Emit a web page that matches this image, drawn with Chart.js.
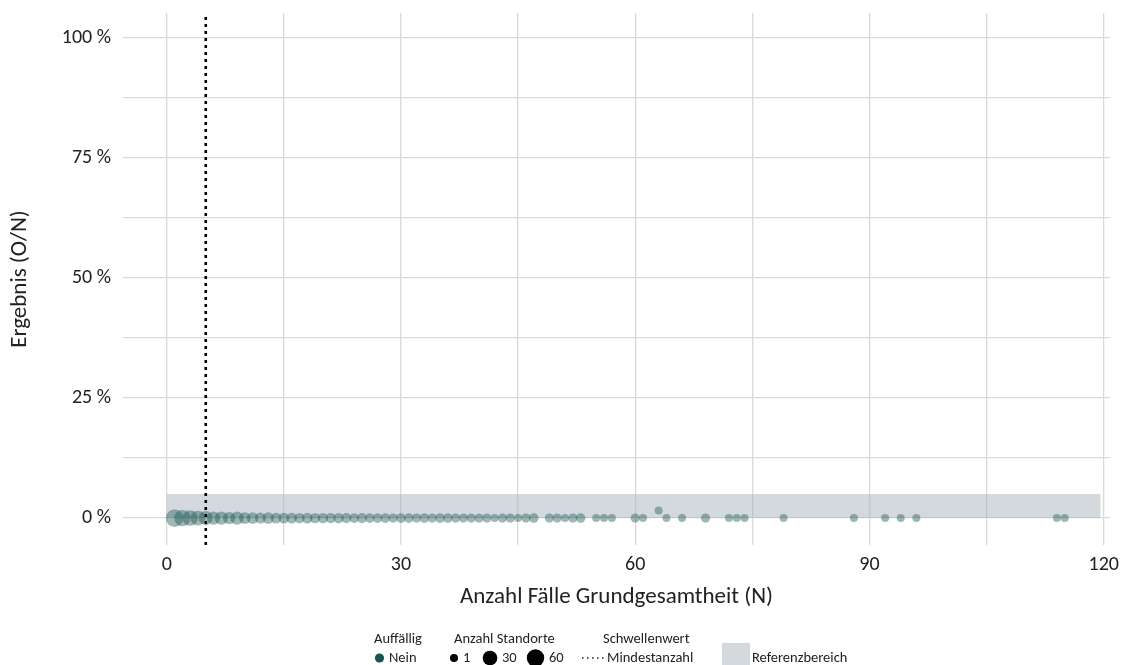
<!DOCTYPE html>
<html><head><meta charset="utf-8">
<script src="https://cdn.jsdelivr.net/npm/chart.js@4.4.1/dist/chart.umd.min.js"></script>
<style>html,body{margin:0;padding:0;background:#fff;}#wrap{width:1122px;height:665px;position:relative;}</style>
</head><body><div id="wrap"><canvas id="c" width="1122" height="665"></canvas></div>
<script>
// Data
const fallzahlen = [1,2,3,4,5,6,7,8,9,10,11,12,13,14,15,16,17,18,19,20,21,22,23,24,25,26,27,28,29,30,31,32,33,34,35,36,37,38,39,40,41,42,43,44,45,46,47,49,50,51,52,53,55,56,57,60,61,63,64,66,69,72,73,74,79,88,92,94,96,114,115];
const anzahlStandorte = [62,48,38,32,26,18,20,14,20,10,9,7,9,6,6,6,5,6,5,5,4,5,4,3,4,3,3,3,2,3,3,2,3,2,3,3,2,2,2,2,2,1,2,2,1,2,3,2,2,1,2,3,1,1,1,2,1,1,1,1,2,1,1,1,1,1,1,1,1,1,1];
const ergebnisProzent = fallzahlen.map(n => n === 63 ? 1.6 : 0);
const referenzbereich = [0, 5];       // percent
const mindestanzahl = 5;
const xTicks = [0,15,30,45,60,75,90,105,120];
const xLabels = [0,30,60,90,120];
const yTicks = [0,12.5,25,37.5,50,62.5,75,87.5,100];
const yLabels = [0,25,50,75,100];
const refBandEnd = 119.6;

const FONT = 'Carlito, Calibri, Lato, sans-serif';
const sizeMin = 1, sizeMax = 62;
function diam(v){ return 8 + 9.6*Math.sqrt(Math.max(0,(v-sizeMin)/(sizeMax-sizeMin))); }

const points = fallzahlen.map((n,i)=>({x:n, y:ergebnisProzent[i], c:anzahlStandorte[i]}));

const legendPlugin = {
  id:'legendCustom',
  afterDraw(chart){
    const ctx = chart.ctx;
    ctx.save();
    ctx.font = '14.5px ' + FONT;
    ctx.fillStyle = '#222';
    ctx.textBaseline = 'middle';
    ctx.textAlign = 'left';
    const ty = 639, iy = 658;
    ctx.fillText('Auffällig', 374, ty);
    ctx.beginPath(); ctx.arc(379.5, iy, 4.6, 0, Math.PI*2); ctx.fillStyle = '#1b5553'; ctx.fill();
    ctx.fillStyle = '#222'; ctx.fillText('Nein', 389, iy);
    ctx.fillText('Anzahl Standorte', 454, ty);
    const items = [[1,454,463],[30,490,502],[60,535.5,549]];
    items.forEach(([v,cx,tx])=>{
      ctx.beginPath(); ctx.arc(cx, iy, diam(v)/2, 0, Math.PI*2); ctx.fillStyle='#000'; ctx.fill();
      ctx.fillStyle='#222'; ctx.fillText(String(v), tx, iy);
    });
    ctx.fillText('Schwellenwert', 603, ty);
    ctx.beginPath(); ctx.setLineDash([1.5,3.5]); ctx.strokeStyle='#222'; ctx.lineWidth=1.3;
    ctx.moveTo(582, iy); ctx.lineTo(605, iy); ctx.stroke(); ctx.setLineDash([]);
    ctx.fillText('Mindestanzahl', 607, iy);
    ctx.fillStyle = 'rgb(211,216,220)'; ctx.fillRect(722, 643, 28, 22);
    ctx.fillStyle = '#222'; ctx.fillText('Referenzbereich', 752, iy);
    ctx.restore();
  }
};

new Chart(document.getElementById('c'), {
  type:'scatter',
  data:{datasets:[
    {
      type:'line', label:'Mindestanzahl',
      data:[{x:mindestanzahl,y:-5.6},{x:mindestanzahl,y:105.2}],
      borderColor:'#000', borderWidth:2.6, borderDash:[3,4], pointRadius:0, fill:false, order:0
    },
    {
      label:'Standorte', data:points,
      backgroundColor:'rgba(27,85,83,0.42)', borderWidth:0,
      pointRadius: c => c.raw ? diam(c.raw.c)/2 : 3,
      pointHoverRadius: c => c.raw ? diam(c.raw.c)/2 : 3,
      order:1
    },
    {
      type:'line', label:'Referenzbereich',
      data:[{x:0,y:referenzbereich[1]},{x:refBandEnd,y:referenzbereich[1]}],
      borderWidth:0, pointRadius:0, fill:{value:referenzbereich[0]},
      backgroundColor:'rgba(160,171,180,0.45)', order:2
    }
  ]},
  options:{
    responsive:false, animation:false, devicePixelRatio:1,
    layout:{padding:{left:0,right:12,top:13,bottom:50}},
    plugins:{legend:{display:false}, tooltip:{enabled:false}},
    scales:{
      x:{
        type:'linear', min:-5.6, max:120.8,
        afterBuildTicks: s => { s.ticks = xTicks.map(v=>({value:v})); },
        afterFit: s => { s.height = 70; s.paddingLeft = 0; s.paddingRight = 0; },
        grid:{color:'#d9d9d9', lineWidth:1.3, drawTicks:false},
        border:{display:false},
        ticks:{padding:8, color:'#222', font:{family:FONT,size:20}, autoSkip:false, maxRotation:0,
          callback: v => xLabels.includes(v) ? String(v) : ''},
        title:{display:true, text:'Anzahl Fälle Grundgesamtheit (N)', color:'#222', font:{family:FONT,size:23}, padding:{top:2}}
      },
      y:{
        type:'linear', min:-5.6, max:105.2,
        afterBuildTicks: s => { s.ticks = yTicks.map(v=>({value:v})); },
        afterFit: s => { s.width = 123; s.paddingTop = 0; s.paddingBottom = 0; },
        grid:{color:'#d9d9d9', lineWidth:1.3, drawTicks:false},
        border:{display:false},
        ticks:{padding:12, color:'#222', font:{family:FONT,size:20}, autoSkip:false,
          callback: v => yLabels.includes(v) ? v + ' %' : ''},
        title:{display:true, text:'Ergebnis (O/N)', color:'#222', font:{family:FONT,size:23}, padding:{top:6,bottom:0}}
      }
    }
  },
  plugins:[legendPlugin]
});
</script></body></html>
